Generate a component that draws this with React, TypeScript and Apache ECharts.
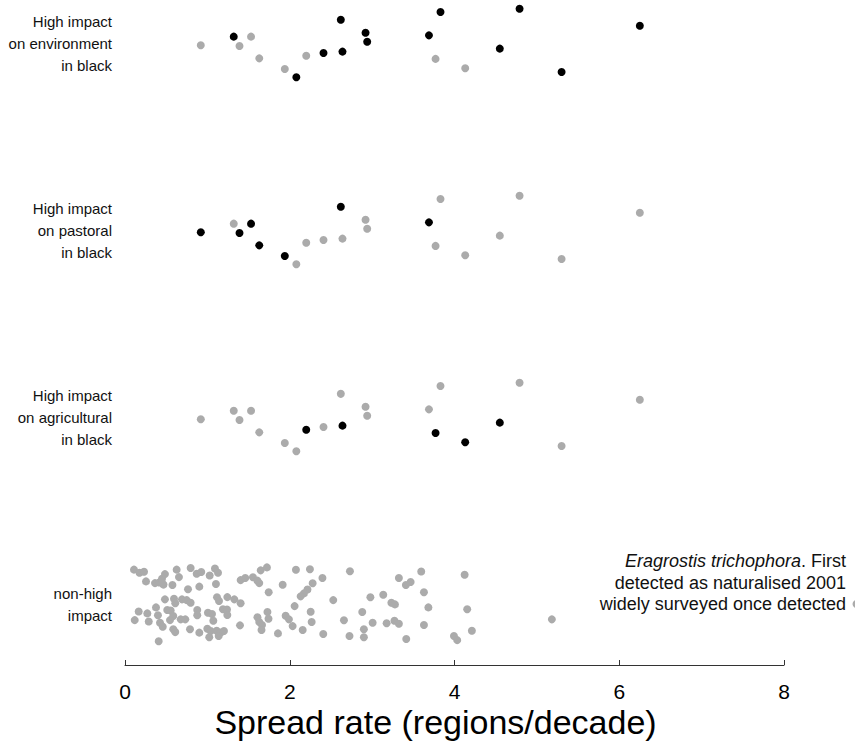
import React, { useEffect, useRef } from "react";
import * as echarts from "echarts";

// ---- Data ----
const groupLabels: Record<number, string> = {
  1: "non-high\nimpact",
  2: "High impact\non agricultural\nin black",
  3: "High impact\non pastoral\nin black",
  4: "High impact\non environment\nin black",
};
const groupLevels = [1, 2, 3, 4];

// High-impact species: spread rate (regions/decade) and vertical jitter
const highRate = [0.92, 1.32, 1.39, 1.53, 1.63, 1.94, 2.08, 2.2, 2.41, 2.62, 2.64, 2.92, 2.94, 3.69, 3.77, 3.83, 4.13, 4.55, 4.79, 5.3, 6.25];
const highJitter = [-0.012, 0.034, -0.016, 0.034, -0.082, -0.139, -0.183, -0.068, -0.053, 0.124, -0.046, 0.055, 0.007, 0.041, -0.085, 0.166, -0.135, -0.03, 0.183, -0.155, 0.092];
// 1 = high impact in that sector (black)
const envImpact = [0, 1, 0, 0, 0, 0, 1, 0, 1, 1, 1, 1, 1, 1, 0, 1, 0, 1, 1, 1, 1];
const pastoralImpact = [1, 0, 1, 1, 1, 1, 0, 0, 0, 1, 0, 0, 0, 1, 0, 0, 0, 0, 0, 0, 0];
const agriImpact = [0, 0, 0, 0, 0, 0, 0, 1, 0, 0, 1, 0, 0, 0, 1, 0, 1, 1, 0, 0, 0];

// Non-high-impact species
const nonHighRate = [
  0.109, 0.176, 0.231, 0.255, 0.364, 0.416, 0.449, 0.485, 0.467, 0.576,
  0.627, 0.655, 0.797, 0.87, 0.926, 1.028, 1.092, 1.129, 1.104, 0.765,
  0.902, 0.485, 0.595, 0.61, 0.692, 0.749, 0.797, 1.117, 1.141, 1.242,
  1.327, 1.404, 0.166, 0.271, 0.376, 0.4, 0.513, 0.555, 0.586, 0.546,
  0.676, 0.732, 0.877, 0.877, 1.007, 1.056, 1.072, 1.189, 1.238, 1.242,
  0.118, 0.288, 0.425, 0.458, 0.586, 0.61, 0.789, 0.902, 0.999, 1.04,
  1.113, 1.161, 1.201, 1.023, 1.137, 0.409,
  1.404, 1.46, 1.553, 1.608, 1.63, 1.647, 1.723, 1.744, 1.914, 2.075,
  2.245, 2.278, 2.215, 2.172, 2.132, 2.397, 1.608, 1.63, 1.663, 1.729,
  1.742, 1.657, 1.95, 1.99, 2.059, 2.254, 2.266, 2.035, 2.157, 1.857,
  1.396, 2.407,
  2.528, 2.731, 2.979, 3.135, 3.325, 3.41, 3.467, 3.234, 3.277, 2.88,
  2.658, 3.006, 3.176, 3.271, 3.325, 2.725, 2.9, 2.9, 3.414, 3.596,
  3.629, 3.683, 3.629, 4.123, 4.154, 4.211, 3.993, 4.033, 5.182, 8.88,
];
const nonHighJitter = [
  0.184, 0.167, 0.173, 0.121, 0.112, 0.115, 0.135, 0.16, 0.104, 0.102,
  0.184, 0.144, 0.193, 0.162, 0.171, 0.153, 0.19, 0.167, 0.107, 0.079,
  0.093, 0.025, 0.028, 0.004, 0.025, 0.021, 0.007, 0.036, 0.016, 0.037,
  0.025, 0.004, -0.04, -0.05, -0.018, -0.06, -0.032, -0.035, -0.064, -0.086,
  -0.082, -0.082, -0.032, -0.06, -0.047, -0.053, -0.089, -0.028, -0.029, -0.059,
  -0.086, -0.093, -0.1, -0.121, -0.135, -0.15, -0.135, -0.153, -0.132, -0.144,
  -0.143, -0.153, -0.144, -0.178, -0.171, -0.199,
  0.128, 0.139, 0.143, 0.125, 0.112, 0.18, 0.196, 0.063, 0.103, 0.183,
  0.186, 0.111, 0.078, 0.057, 0.041, 0.139, -0.071, -0.096, -0.112, -0.043,
  -0.079, -0.139, -0.063, -0.082, -0.011, -0.041, -0.096, -0.118, -0.139, -0.157,
  -0.114, -0.16,
  0.021, 0.175, 0.036, 0.05, 0.139, 0.102, 0.118, 0.007, -0.002, -0.043,
  -0.087, -0.1, -0.103, -0.089, -0.105, -0.171, -0.135, -0.178, -0.187, 0.174,
  0.063, -0.018, -0.112, 0.157, -0.028, -0.143, -0.171, -0.193, -0.082, 0.0,
];

const xTicks = { min: 0, max: 8, interval: 2 };
const xTitle = "Spread rate (regions/decade)";
const noteLines = [
  "{i|Eragrostis trichophora}. First",
  "detected as naturalised 2001",
  "widely surveyed once detected",
];

const GRAY = "#ababab";
const BLACK = "#000000";
const FONT = "Liberation Sans, Arial, sans-serif";

function groupPoints(level: number, flags: number[], want: number) {
  const out: number[][] = [];
  highRate.forEach((r, i) => {
    if (flags[i] === want) out.push([r, level + highJitter[i]]);
  });
  return out;
}

export default function App() {
  const ref = useRef<HTMLDivElement>(null);
  useEffect(() => {
    if (!ref.current) return;
    const chart = echarts.init(ref.current, null, { renderer: "svg" });
    const scatter = (data: number[][], color: string) => ({
      type: "scatter",
      data,
      symbol: "circle",
      symbolSize: 8,
      clip: false,
      itemStyle: { color, opacity: 1 },
      emphasis: { disabled: true },
    });
    const nonHigh = nonHighRate.map((r, i) => [r, 1 + nonHighJitter[i]]);
    chart.setOption({
      animation: false,
      backgroundColor: "#ffffff",
      grid: { left: 125, right: 71, top: 0, bottom: 76, containLabel: false, outerBoundsMode: "none" },
      xAxis: {
        type: "value",
        min: xTicks.min,
        max: xTicks.max,
        interval: xTicks.interval,
        axisLine: { show: true, onZero: false, lineStyle: { color: "#333", width: 1 } },
        axisTick: { show: true, inside: true, length: 5, lineStyle: { color: "#333" } },
        splitLine: { show: false },
        axisLabel: { fontSize: 21, color: "#000", margin: 16, fontFamily: FONT },
        name: xTitle,
        nameLocation: "middle",
        nameGap: 40,
        nameMoveOverlap: false,
        nameTextStyle: { fontSize: 34, color: "#000", fontFamily: FONT, padding: [0, 38, 0, 0] },
      },
      yAxis: {
        type: "value",
        min: 0.674,
        max: 4.23,
        axisLine: { show: false },
        axisTick: { show: false },
        splitLine: { show: false },
        axisLabel: {
          customValues: groupLevels,
          formatter: (v: number) => groupLabels[Math.round(v)] || "",
          align: "right",
          margin: 13,
          fontSize: 15,
          lineHeight: 22,
          color: "#111",
          fontFamily: FONT,
        },
      },
      series: [
        scatter(nonHigh, GRAY),
        scatter(groupPoints(2, agriImpact, 0), GRAY),
        scatter(groupPoints(2, agriImpact, 1), BLACK),
        scatter(groupPoints(3, pastoralImpact, 0), GRAY),
        scatter(groupPoints(3, pastoralImpact, 1), BLACK),
        scatter(groupPoints(4, envImpact, 0), GRAY),
        scatter(groupPoints(4, envImpact, 1), BLACK),
      ],
      graphic: [
        {
          type: "group",
          right: 9,
          top: 552,
          children: noteLines.map((line, k) => ({
            type: "text",
            x: 0,
            y: k * 21.5,
            style: {
              text: line,
              align: "right",
              verticalAlign: "top",
              fill: "#111",
              font: `18px ${FONT}`,
              rich: {
                i: { fontStyle: "italic", fontSize: 18, fontFamily: FONT, fill: "#111" },
              },
            },
          })),
        },
      ],
    });
    return () => chart.dispose();
  }, []);
  return (
    <div
      ref={ref}
      style={{ position: "absolute", left: 0, top: 0, width: 855, height: 741, background: "#fff" }}
    />
  );
}
